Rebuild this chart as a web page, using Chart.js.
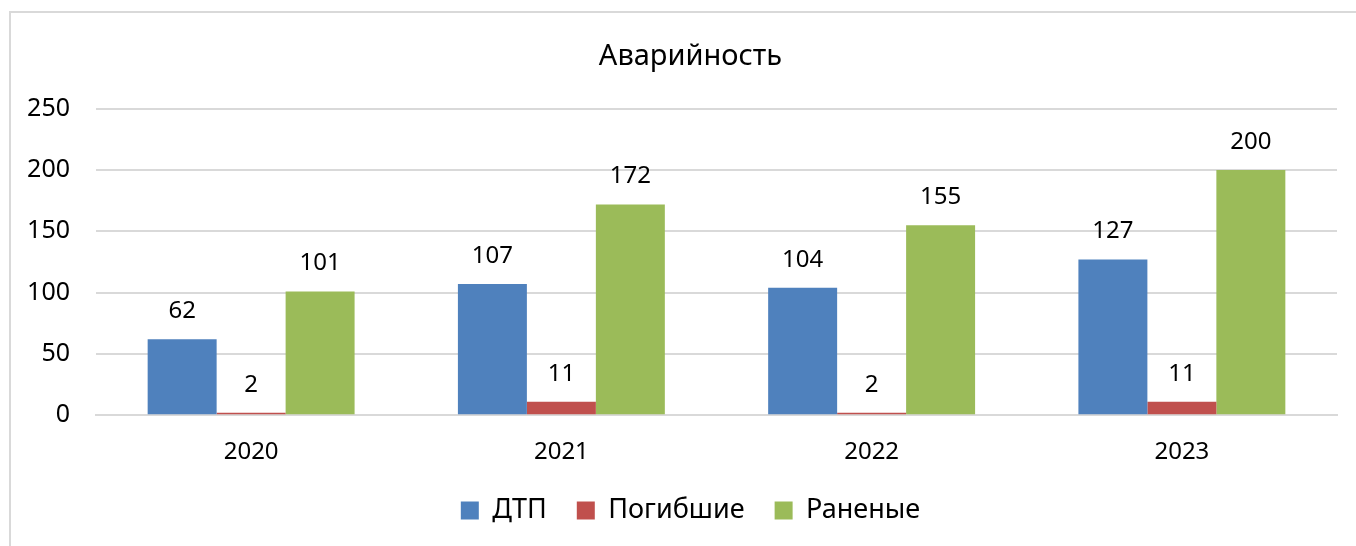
<!DOCTYPE html>
<html lang="ru">
<head>
  <meta charset="UTF-8" />
  <title>Аварийность</title>
  <script src="https://cdn.jsdelivr.net/npm/chart.js"></script>
  <style>
    html, body { margin: 0; padding: 0; background: #fff; }
    #wrap { width: 1356px; height: 546px; }
  </style>
</head>
<body>
  <div id="wrap"><canvas id="chart"></canvas></div>

  <script>
    // Данные
    const years = ['2020', '2021', '2022', '2023'];
    const dtp = [62, 107, 104, 127];
    const pogibshie = [2, 11, 2, 11];
    const ranenye = [101, 172, 155, 200];
    const yTicks = [0, 50, 100, 150, 200, 250];

    const FONT = "'Noto Sans', 'Open Sans', sans-serif";

    // рамка вокруг диаграммы
    const frame = {
      id: 'frame',
      beforeDraw(chart) {
        const ctx = chart.ctx;
        ctx.save();
        ctx.fillStyle = '#fff';
        ctx.fillRect(0, 0, chart.width, chart.height);
        ctx.strokeStyle = '#d9d9d9';
        ctx.lineWidth = 2;
        ctx.strokeRect(10, 12, chart.width + 20, chart.height + 20);
        ctx.restore();
      }
    };

    // подписи значений над столбцами
    const valueLabels = {
      id: 'valueLabels',
      afterDatasetsDraw(chart) {
        const ctx = chart.ctx;
        ctx.save();
        ctx.font = '24px ' + FONT;
        ctx.fillStyle = '#000';
        ctx.textAlign = 'center';
        ctx.textBaseline = 'middle';
        chart.data.datasets.forEach((ds, i) => {
          chart.getDatasetMeta(i).data.forEach((bar, j) => {
            ctx.fillText(ds.data[j], bar.x, bar.y - 28);
          });
        });
        ctx.restore();
      }
    };

    new Chart(document.getElementById('chart'), {
      type: 'bar',
      data: {
        labels: years,
        datasets: [
          { label: 'ДТП', data: dtp, backgroundColor: '#4f81bd' },
          { label: 'Погибшие', data: pogibshie, backgroundColor: '#c0504d' },
          { label: 'Раненые', data: ranenye, backgroundColor: '#9bbb59' }
        ]
      },
      options: {
        responsive: true,
        maintainAspectRatio: false,
        animation: false,
        datasets: { bar: { categoryPercentage: 0.667, barPercentage: 1.0 } },
        layout: { padding: { top: 39, right: 19, bottom: 12, left: 44 } },
        plugins: {
          title: {
            display: true,
            text: 'Аварийность',
            color: '#000',
            font: { family: FONT, size: 29, weight: 'normal' },
            padding: { top: 0, bottom: 35 }
          },
          legend: {
            position: 'bottom',
            labels: {
              color: '#000',
              font: { family: FONT, size: 27 },
              boxWidth: 18,
              boxHeight: 18,
              padding: 30
            }
          },
          tooltip: { enabled: false }
        },
        scales: {
          x: {
            grid: { display: false },
            border: { color: '#d9d9d9', width: 2 },
            ticks: { color: '#000', font: { family: FONT, size: 24 }, padding: 15 },
            afterFit(scale) { scale.height = scale.height - 15; }
          },
          y: {
            min: 0,
            max: 250,
            afterBuildTicks(scale) {
              scale.ticks = yTicks.map(v => ({ value: v }));
            },
            afterFit(scale) {
              scale.width = 52;
              // подписи выходят левее оси — не обрезать их
              scale._computeLabelArea = () => undefined;
            },
            grid: { color: '#d9d9d9', lineWidth: 2, drawTicks: false },
            border: { display: false },
            ticks: { color: '#000', font: { family: FONT, size: 25 }, padding: 26 }
          }
        }
      },
      plugins: [frame, valueLabels]
    });
  </script>
</body>
</html>
